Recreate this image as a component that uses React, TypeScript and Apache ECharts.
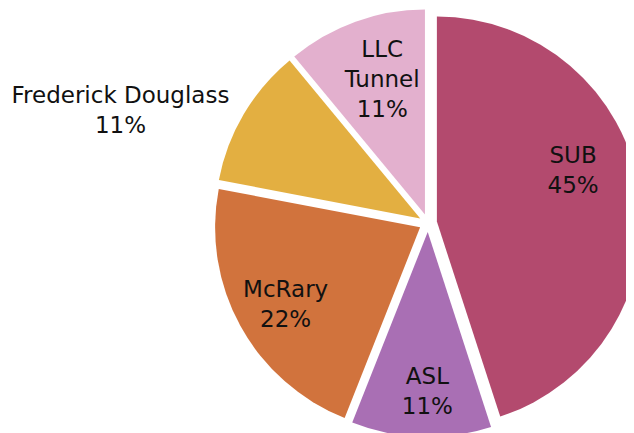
import React, { useEffect, useRef } from "react";
import * as echarts from "echarts";

const names = ["SUB", "ASL", "McRary", "Frederick Douglass", "LLC\nTunnel"];
const values = [45, 11, 22, 11, 11];
const colors = ["#B34A6E", "#A96FB4", "#D1733D", "#E3AF41", "#E3B0CE"];
const labelShift = [
  [32, -35],
  [3, 54],
  [-42, 26],
  [-209, -55],
  [-7, -36],
];

export default function App() {
  const ref = useRef<HTMLDivElement>(null);
  useEffect(() => {
    if (!ref.current) return;
    const chart = echarts.init(ref.current, undefined, { renderer: "svg" });
    chart.setOption({
      animation: false,
      series: [
        {
          type: "pie",
          center: [420, 215],
          radius: 205,
          startAngle: 90,
          clockwise: true,
          selectedMode: "multiple",
          selectedOffset: 9,
          avoidLabelOverlap: false,
          itemStyle: { borderColor: "#fff", borderWidth: 0 },
          label: {
            show: true,
            position: "inside",
            formatter: "{b}\n{d}%",
            fontFamily: "DejaVu Sans",
            fontSize: 23,
            lineHeight: 30,
            color: "#111",
          },
          labelLine: { show: false },
          emphasis: { disabled: true },
          labelLayout: (p: any) => ({
            dx: labelShift[p.dataIndex][0],
            dy: labelShift[p.dataIndex][1],
          }),
          data: names.map((n, i) => ({
            name: n,
            value: values[i],
            selected: true,
            itemStyle: { color: colors[i] },
          })),
        },
      ],
    });
    return () => chart.dispose();
  }, []);
  return <div ref={ref} style={{ width: 634, height: 433 }} />;
}
